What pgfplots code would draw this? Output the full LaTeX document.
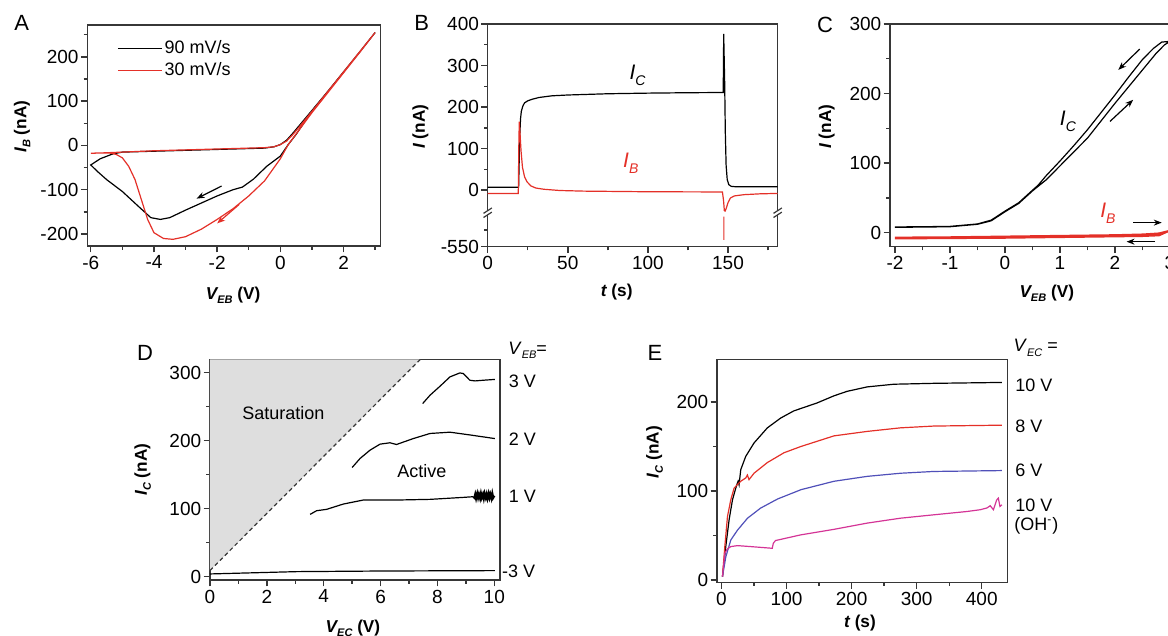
\documentclass[border=0pt]{standalone}
\usepackage{pgfplots}
\pgfplotsset{compat=1.18}
\usepackage{fontspec}
\setmainfont{Liberation Sans}
\usetikzlibrary{arrows.meta}
\definecolor{myred}{RGB}{228,48,40}
\definecolor{myblue}{RGB}{80,80,185}
\definecolor{mymag}{RGB}{212,52,150}
\definecolor{axgray}{RGB}{55,55,55}
\definecolor{satgray}{RGB}{222,222,222}
\newcommand{\tf}{\fontsize{8.6}{10}\selectfont}
\newcommand{\tkf}{\fontsize{9.5}{11}\selectfont}
\newcommand{\sidef}{\fontsize{9}{10}\selectfont}
\newcommand{\sub}[1]{\raisebox{-0.45ex}{\fontsize{5.5}{6}\selectfont\itshape #1}}
\newcommand{\subb}[1]{\raisebox{-0.5ex}{\fontsize{7}{8}\selectfont\itshape #1}}
\newcommand{\lab}[2]{{\bfseries\itshape #1}{\bfseries\sub{#2}}}
\pgfplotsset{
  panel/.style={
    scale only axis, anchor=south west,
    axis line style={axgray, line width=0.75pt},
    tick align=outside, tick pos=left,
    major tick length=3.2pt, minor tick length=1.8pt,
    every tick/.style={axgray, line width=0.7pt},
    tick label style={font=\tkf, text=black},
    xticklabel style={inner sep=1pt, yshift=-0.5pt},
    yticklabel style={inner sep=1pt},
    label style={font=\tf\bfseries},
    xlabel style={anchor=center},
    ylabel style={anchor=center},
    unbounded coords=jump,
  },
  ln/.style={line width=0.6pt},
  arr/.style={line width=0.6pt, -{Stealth[length=4pt,width=3pt]}, forget plot},
}
\begin{document}
\begin{tikzpicture}
\useasboundingbox (0,0) rectangle (584pt,318pt);

% ---------------- A ----------------
\begin{axis}[panel, at={(43.65pt,195pt)}, width=146.6pt, height=110.5pt,
  xmin=-6.11, xmax=3.17, ymin=-227, ymax=272,
  xtick={-6,-4,-2,0,2}, xticklabels={-6,-4,-2,0,2}, minor xtick={-5,-3,-1,1,3},
  ytick={-200,-100,0,100,200}, yticklabels={-200,-100,0,100,200}, minor ytick={-150,-50,50,150,250},
  xlabel={\lab{V}{EB} (V)}, ylabel={\lab{I}{B} (nA)},
  xlabel style={at={(axis description cs:0.497,-0.222)}},
  ylabel style={at={(axis description cs:-0.222,0.54)}},
  legend style={at={(0.101,0.9425)}, anchor=north west, draw=none, fill=none, font=\sidef, inner sep=0pt, row sep=1pt, nodes={inner sep=1pt}},
  legend cell align=left,
  legend image code/.code={\draw[#1] (0pt,0pt) -- (22pt,0pt);},
]
\addplot[black, ln] coordinates {(3,255)(2.5,210)(2,166)(1.5,122)(1,78)(0.5,25)(0.25,2)(0,-24)(-0.43,-47)(-0.85,-76)(-1.2,-94)(-1.5,-100)(-2,-114)(-2.5,-130)(-3,-146)(-3.5,-163)(-3.8,-167)(-4.1,-163)(-4.5,-137)(-5,-104)(-5.5,-77)(-5.8,-58)(-6,-44)(-5.7,-30)(-5.3,-19)(-5,-15)(-4,-13)(-3,-11)(-2,-9)(-1,-7)(-0.5,-6)(-0.2,-3)(0,2)(0.2,12)(0.4,28)(0.6,45)(1,79)(1.5,122)(2,166)(2.5,210)(3,255)};
\addlegendentry{90 mV/s}
\addplot[myred, ln] coordinates {(3,255)(2.5,209)(2,164)(1.5,119)(1,74)(0.5,26)(0.25,2)(0,-30)(-0.5,-80)(-1,-114)(-1.5,-143)(-2,-167)(-2.5,-189)(-3,-206)(-3.4,-212)(-3.7,-210)(-4,-197)(-4.2,-167)(-4.4,-122)(-4.6,-77)(-4.8,-47)(-5,-28)(-5.2,-20)(-5.4,-17)(-6,-17.5)(-5.5,-16.5)(-5,-15)(-4,-12)(-2,-8)(-1,-6)(-0.5,-5)(-0.2,-3)(0,2)(0.2,10)(0.4,25)(0.6,42)(1,77)(2,166)(3,255)};
\addlegendentry{30 mV/s}
\addplot[black, arr] coordinates {(-1.86,-91.6)(-2.65,-120)};
\addplot[myred, arr] coordinates {(-1.30,-133)(-2.0,-176)};
\end{axis}
\node[font=\fontsize{11}{12}\selectfont] at (10.85pt,306.35pt) {A};

% ---------------- B ----------------
\begin{axis}[panel, at={(243.85pt,194.65pt)}, width=145pt, height=111.35pt,
  xmin=0, xmax=181, ymin=-136.3, ymax=400, clip=false,
  xtick={0,50,100,150}, xticklabels={0,50,100,150}, minor xtick={25,75,125,175},
  ytick={-136.3,0,100,200,300,400}, yticklabels={-550,0,100,200,300,400}, minor ytick={-96,50,150,250,350},
  xlabel={{\bfseries\itshape t} (s)}, ylabel={{\bfseries\itshape I} (nA)},
  xlabel style={at={(axis description cs:0.445,-0.202)}},
  ylabel style={at={(axis description cs:-0.232,0.539)}},
]
\addplot[black, ln] coordinates {(0,7)(10,7)(19.3,7)(19.6,60)(20,130)(20.5,172)(21,190)(22,203)(23,210)(25,215)(28,219)(32,223)(40,227)(50,229)(75,232)(100,233.5)(125,234.5)(147,235)(147.3,376)(147.9,260)(148.3,140)(148.8,60)(149.5,25)(150.5,13)(152,9)(155,8)(181,8)};
\addplot[myred, ln] coordinates {(0,-8)(19.1,-8)(19.4,100)(19.7,165)(20.2,135)(20.8,95)(21.7,55)(23,32)(24.5,20)(27,10)(30,5)(35,2)(45,-1)(60,-2.5)(100,-4)(146.5,-4.5)(147.2,-25)(147.7,-50)(147.6,nan)(147.4,-64)(147.4,-120)(147.7,nan)(148.0,-52)(148.8,-45)(150,-30)(151.5,-19)(154,-14)(160,-11)(170,-9)(181,-8)};
\fill[white] (axis cs:-2,-48) rectangle (axis cs:2.2,-60);
\fill[white] (axis cs:178.9,-48) rectangle (axis cs:183.1,-60);
\draw[axgray, line width=0.6pt] (axis cs:-2.6,-56) -- (axis cs:2.6,-43) (axis cs:-2.6,-66) -- (axis cs:2.6,-53);
\draw[axgray, line width=0.6pt] (axis cs:178.4,-56) -- (axis cs:183.6,-43) (axis cs:178.4,-66) -- (axis cs:183.6,-53);
\node[font=\fontsize{10.5}{12}\selectfont\itshape] at (axis cs:93.5,276) {I\subb{C}};
\node[font=\fontsize{10.5}{12}\selectfont\itshape, text=myred] at (axis cs:89.3,64) {I\subb{B}};
\end{axis}
\node[font=\fontsize{11}{12}\selectfont] at (210.85pt,306.35pt) {B};

% ---------------- C ----------------
\begin{axis}[panel, at={(445pt,194.65pt)}, width=142.75pt, height=111.35pt,
  xmin=-2.09, xmax=3.1, ymin=-20.2, ymax=300,
  xtick={-2,-1,0,1,2,3}, xticklabels={-2,-1,0,1,2,3}, minor xtick={-1.5,-0.5,0.5,1.5,2.5},
  ytick={0,100,200,300}, yticklabels={0,100,200,300}, minor ytick={50,150,250},
  xlabel={\lab{V}{EB} (V)}, ylabel={{\bfseries\itshape I} (nA)},
  xlabel style={at={(axis description cs:0.549,-0.209)}},
  ylabel style={at={(axis description cs:-0.222,0.539)}},
]
\addplot[black, ln] coordinates {(-2,7.7)(-1.5,8)(-1,8.5)(-0.5,12)(-0.25,17)(0,30)(0.25,42)(0.5,60)(0.75,76)(1,96)(1.25,116)(1.5,136)(1.75,161)(2,186)(2.25,210)(2.5,234)(2.75,258)(2.9,270)(3,275)(2.85,274)(2.7,265)(2.5,249)(2.25,224)(2,198)(1.75,173)(1.5,148)(1.25,125)(1,103)(0.75,82)(0.6,68)(0.5,61)(0.25,43)(0,31)(-0.25,18)(-0.5,12.5)(-1,9)(-1.5,8.5)(-2,8.2)};
\addplot[myred, line width=0.9pt] coordinates {(-2,-7)(-1,-6.5)(0,-5.5)(1,-4.5)(2,-3.5)(2.5,-2.5)(2.8,-1)(3,3)(2.8,-4)(2.5,-5)(2,-5.5)(1,-6.5)(0,-7.5)(-1,-8)(-2,-8.5)};
\addplot[black, arr] coordinates {(2.45,264)(2.06,234)};
\addplot[black, arr] coordinates {(1.91,160)(2.33,191)};
\addplot[black, arr] coordinates {(2.33,14.4)(2.85,14.4)};
\addplot[black, arr] coordinates {(2.73,-13)(2.21,-13)};
\node[font=\fontsize{10.5}{12}\selectfont\itshape] at (axis cs:1.145,160) {I\subb{C}};
\node[font=\fontsize{10.5}{12}\selectfont\itshape, text=myred] at (axis cs:1.87,28) {I\subb{B}};
\end{axis}
\node[font=\fontsize{11}{12}\selectfont] at (412.5pt,305.5pt) {C};

% ---------------- D ----------------
\begin{axis}[panel, at={(105pt,28pt)}, width=145pt, height=110.35pt,
  xmin=0, xmax=10.2, ymin=-5, ymax=319.6,
  xtick={0,2,4,6,8,10}, xticklabels={0,2,4,6,8,10}, minor xtick={1,3,5,7,9},
  ytick={0,100,200,300}, yticklabels={0,100,200,300}, minor ytick={50,150,250},
  xlabel={\lab{V}{EC} (V)}, ylabel={\lab{I}{C} (nA)},
  xlabel style={at={(axis description cs:0.493,-0.217)}},
  ylabel style={at={(axis description cs:-0.232,0.50)}},
]
\addplot[fill=satgray, draw=none] coordinates {(0,9)(7.4,319.6)(0,319.6)(0,9)};
\addplot[axgray, line width=0.6pt, dash pattern=on 2pt off 1.5pt] coordinates {(0,9)(7.4,319.6)};
\addplot[black, ln] coordinates {(7.48,254.5)(7.74,266.8)(8.09,280)(8.44,293.7)(8.79,299.6)(8.91,298.6)(9.14,288.8)(9.32,287.8)(9.61,288.8)(10.02,290)};
\addplot[black, ln] coordinates {(5.0,160.5)(5.28,173.8)(5.63,186)(5.98,194.8)(6.33,196.8)(6.56,194.3)(7.15,203)(7.74,210.5)(8.44,212.4)(9.2,208)(10.02,203)};
\addplot[black, ln] coordinates {(3.52,91.5)(3.75,96.9)(4.1,98.9)(4.69,106.7)(5.39,112.6)(6.56,112.6)(7.74,113.6)(8.91,116.5)(9.26,117.5)};
\addplot[black, line width=1.1pt] coordinates {(9.26,117.5)(9.3,116)(9.33,121)(9.36,115)(9.4,122)(9.43,116)(9.46,121)(9.5,115)(9.53,122)(9.56,116)(9.6,121)(9.63,115)(9.66,122)(9.7,116)(9.73,121)(9.76,115)(9.8,122)(9.83,116)(9.86,121)(9.9,115)(9.93,122)(9.96,116)(10.0,119)};
\addplot[black, ln] coordinates {(0,3.9)(3.05,7.3)(6,8.2)(10.02,8.8)};
\node[font=\sidef] at (axis cs:2.58,241) {Saturation};
\node[font=\sidef] at (axis cs:7.45,155) {Active};
\end{axis}
\node[font=\fontsize{11}{12}\selectfont] at (72.5pt,141.35pt) {D};
\node[anchor=west, font=\sidef, inner sep=0pt] at (254pt,143pt) {\textit{V}\sub{EB}=};
\node[anchor=west, font=\sidef, inner sep=0pt] at (254.2pt,127.5pt) {3 V};
\node[anchor=west, font=\sidef, inner sep=0pt] at (254.2pt,98.35pt) {2 V};
\node[anchor=west, font=\sidef, inner sep=0pt] at (254.2pt,70pt) {1 V};
\node[anchor=west, font=\sidef, inner sep=0pt] at (250.85pt,32.15pt) {-3 V};

% ---------------- E ----------------
\begin{axis}[panel, at={(358.5pt,26.85pt)}, width=145.15pt, height=111.5pt,
  xmin=-6.9, xmax=439.3, ymin=-2.5, ymax=248,
  xtick={0,100,200,300,400}, xticklabels={0,100,200,300,400}, minor xtick={50,150,250,350},
  ytick={0,100,200}, yticklabels={0,100,200}, minor ytick={50,150},
  xlabel={{\bfseries\itshape t} (s)}, ylabel={\lab{I}{C} (nA)},
  xlabel style={at={(axis description cs:0.4926,-0.1825)}},
  ylabel style={at={(axis description cs:-0.215,0.584)}},
]
\addplot[black, ln] coordinates {(1.5,3.8)(6.6,37.6)(11.7,67.7)(16.9,90.2)(22,103.4)(24,108)(25.5,111)(27,107)(29.6,124)(37.3,139)(50,154)(70.5,171)(91,182)(111,190)(147,199)(173,207)(193,212)(224,217)(265,220)(326,221)(431,222)};
\addplot[myred, ln] coordinates {(1.5,3.8)(5.1,37.6)(9.2,71.4)(14.3,90.2)(19.4,103.4)(29.6,111)(37.3,114.7)(39.8,118)(42.3,112.8)(50,120)(70.5,132)(96,143)(121.8,150)(173,162)(224,167)(275,171)(326,173)(431,174)};
\addplot[myblue, ln] coordinates {(1.5,3.8)(6.6,26)(14.3,45)(24.5,56)(40,69.5)(60,80.8)(86,91)(122,101.5)(173,111)(224,116.5)(275,120)(326,122)(431,123)};
\addplot[mymag, ln] coordinates {(1.5,3.8)(5.1,30)(9,35)(14.3,37.6)(24.5,38.7)(45,37.6)(78,35.7)(79.7,41.4)(83,44.4)(122,50.8)(173,57)(224,64)(275,69.5)(326,73.3)(377,77)(397.5,79)(408,81)(413,83.5)(418,79)(423,90)(425.5,92)(428,82.7)(431,84.6)};
\end{axis}
\node[font=\fontsize{11}{12}\selectfont] at (327.5pt,141.35pt) {E};
\node[anchor=west, font=\sidef, inner sep=0pt] at (506.65pt,144pt) {\textit{V}\sub{EC} =};
\node[anchor=west, font=\sidef, inner sep=0pt] at (507.5pt,125.5pt) {10 V};
\node[anchor=west, font=\sidef, inner sep=0pt] at (507.5pt,105pt) {8 V};
\node[anchor=west, font=\sidef, inner sep=0pt] at (507.5pt,83pt) {6 V};
\node[anchor=west, font=\sidef, inner sep=0pt] at (507.5pt,65.5pt) {10 V};
\node[anchor=west, font=\sidef, inner sep=0pt] at (507pt,55pt) {(OH\textsuperscript{-})};
\end{tikzpicture}
\end{document}
